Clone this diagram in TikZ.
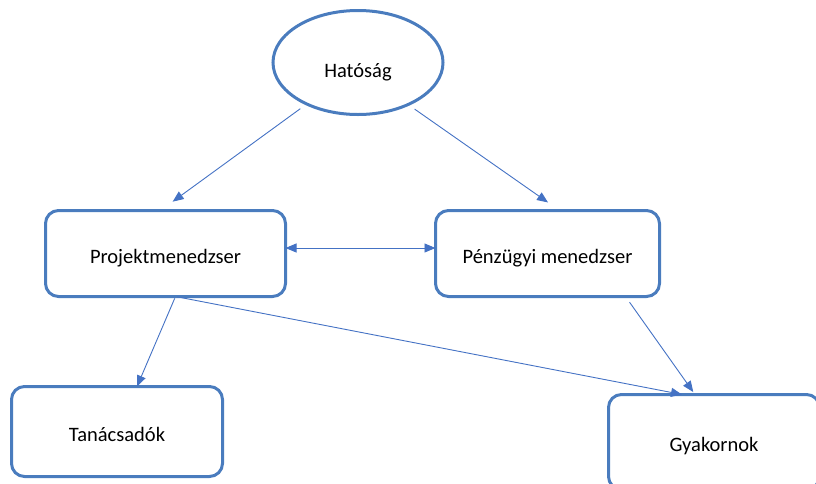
\documentclass[tikz,border=0pt]{standalone}
\usepackage{fontspec}
\setmainfont{Carlito}
\usetikzlibrary{shapes.geometric,arrows.meta}
\definecolor{boxBlue}{RGB}{74,124,190}
\definecolor{lineBlue}{RGB}{68,114,196}

\begin{document}
\begin{tikzpicture}
[x=1pt,y=-1pt,>={Triangle[length=11pt,width=9pt]},%
  boxDecorate/.style={shape=rectangle,rounded corners=13pt,draw=boxBlue,line width=3pt,inner sep=0pt,outer sep=0pt,text height=24pt,text depth=5pt},%
  ellDecorate/.style={shape=ellipse,draw=boxBlue,line width=3pt,inner sep=0pt,outer sep=0pt,minimum width=170pt,minimum height=104pt,text height=35pt,text depth=5pt},%
  lineDecorate/.style={draw=lineBlue,line width=0.9pt}]
\fontsize{20.5}{24}\selectfont
\useasboundingbox (0,0) rectangle (816,483);
%% nodes or vertices
\node (hat) at (358,62.5) [ellDecorate] {Hatóság};
\foreach \nodename/\x/\y/\w/\h/\txt in {
  proj/165.5/253.5/240/86/Projektmenedzser, pen/547.5/253.5/224/86/Pénzügyi menedzser,
  tan/117/431.5/211/90/Tanácsadók, gya/714/442/211/95/Gyakornok}
{
  \node (\nodename) at (\x,\y) [boxDecorate,minimum width=\w pt,minimum height=\h pt] {\txt};
}
%% edges or lines
\draw[lineDecorate,->,shorten <=8pt,shorten >=15pt] (hat.219) -- ([xshift=-5pt]proj.north);
\draw[lineDecorate,->,shorten <=8pt,shorten >=14pt] (hat.320) -- ([xshift=12pt]pen.north);
\draw[lineDecorate,<->] ([yshift=5.5pt]proj.east) -- ([yshift=5.5pt]pen.west);
\draw[lineDecorate,->,shorten <=2pt] ([xshift=10pt]proj.south) -- ([xshift=20pt]tan.north);
\draw[lineDecorate,->,shorten <=2pt] ([xshift=10pt]proj.south) -- ([xshift=-32pt]gya.north);
\draw[lineDecorate,->,shorten <=7pt,shorten >=3pt] ([xshift=78pt]pen.south) -- ([xshift=-19pt]gya.north);
\end{tikzpicture}
\end{document}
